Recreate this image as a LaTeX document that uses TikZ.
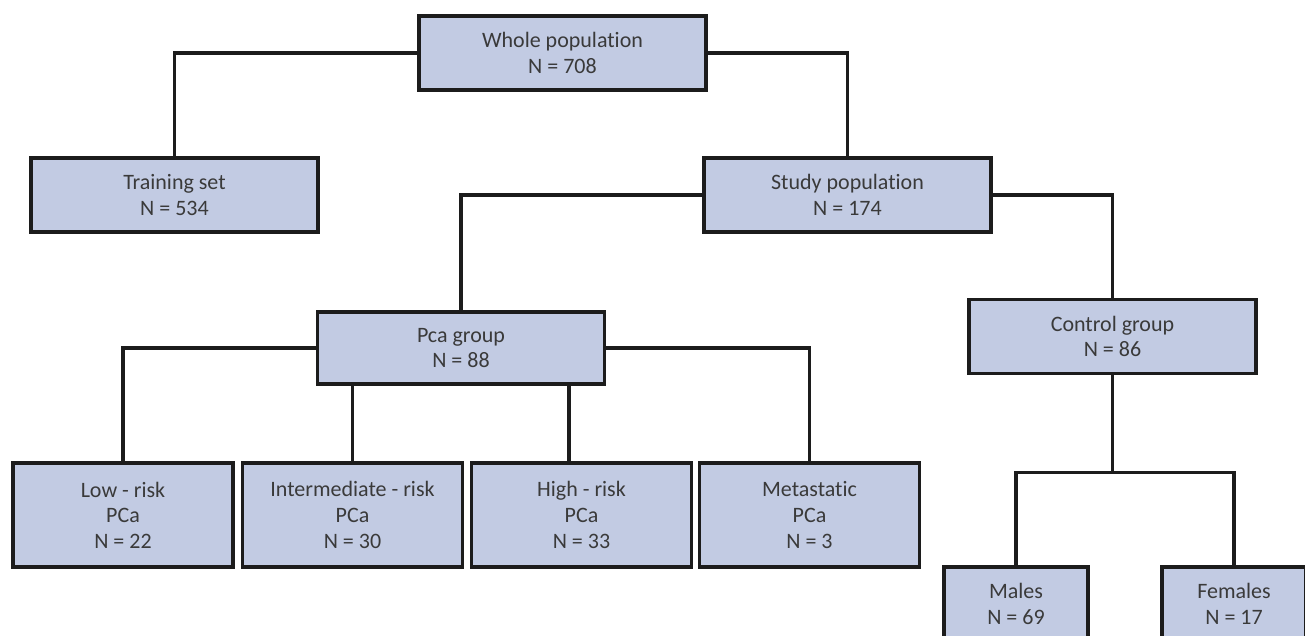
\documentclass[tikz,border=0pt]{standalone}
\usepackage{fontspec}
\setmainfont{Carlito}[Ligatures=NoCommon]
\definecolor{boxfill}{RGB}{194,203,227}
\definecolor{boxline}{RGB}{28,28,28}
\definecolor{boxtext}{RGB}{58,58,58}
\begin{document}
\begin{tikzpicture}[x=0.5pt,y=-0.5pt,
  grp/.style={rectangle,draw=boxline,fill=boxfill,line width=1.6pt,
    align=center,text=boxtext,inner sep=0pt,
    font=\fontsize{11}{12.8}\selectfont},
  wide/.style={grp,minimum width=143.5pt,minimum height=37pt},
  leaf/.style={grp,minimum width=110pt,minimum height=52pt},
  sex/.style={grp,minimum width=72pt,minimum height=37pt},
  link/.style={draw=boxline,line width=1.6pt}]
\useasboundingbox (0,0) rectangle (1305,636);
\clip (0,0) rectangle (1305,636);

% top levels
\node[wide] (whole) at (562.5,53) {Whole population\\N = 708};
\node[wide] (train) at (174.5,195) {Training set\\N = 534};
\node[wide] (study) at (847.5,195) {Study population\\N = 174};

% groups
\node[wide,minimum height=36pt] (pca) at (461,348) {Pca group\\N = 88};
\node[wide] (ctrl) at (1112.5,336.5) {Control group\\N = 86};

% pca subgroups
\node[leaf] (low) at (123,515) {Low - risk\\PCa\\N = 22};
\node[leaf] (inter) at (352.5,515) {Intermediate - risk\\PCa\\N = 30};
\node[leaf] (high) at (581.5,515) {High - risk\\PCa\\N = 33};
\node[leaf] (meta) at (809.5,515) {Metastatic\\PCa\\N = 3};

% control subgroups
\node[sex] (males) at (1016,604) {Males\\N = 69};
\node[sex] (females) at (1234,604) {Females\\N = 17};

% links
\draw[link] (whole.west) -| (train.north);
\draw[link] (whole.east) -| (study.north);
\draw[link] (study.west) -| (pca.north);
\draw[link] (study.east) -| (ctrl.north);
\draw[link] (pca.west) -| (low.north);
\draw[link] (pca.east) -| (meta.north);
\draw[link] (inter.north) -- (inter.north |- pca.south);
\coordinate (hightop) at (569,463);
\draw[link] (hightop) -- (hightop |- pca.south);
\draw[link] (ctrl.south) -- ++(0,97) coordinate (split);
\draw[link] (males.north) |- (split) -| (females.north);

\end{tikzpicture}
\end{document}
